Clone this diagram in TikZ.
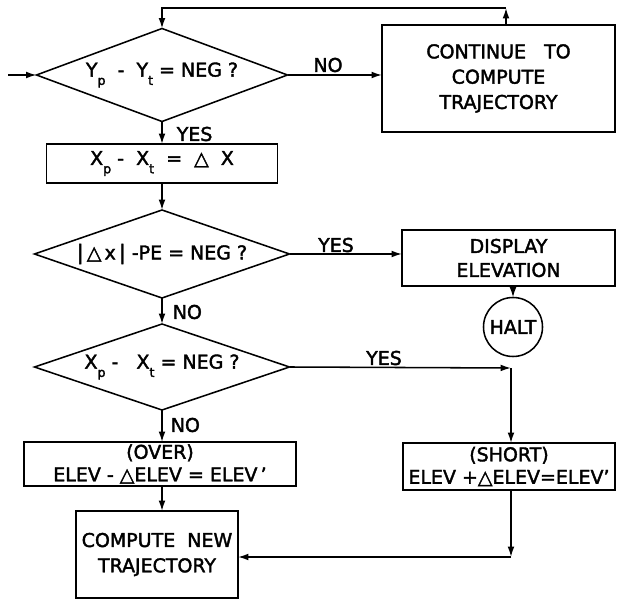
\documentclass[tikz,border=0pt]{standalone}
\usepackage{fontspec}
\setmainfont{DejaVu Sans}[FakeBold=2]
\usetikzlibrary{shapes.geometric,arrows.meta}

\newcommand{\lo}[1]{\raisebox{-0.8ex}{\small #1}}
\def\px{0.025cm}

\begin{document}
\begin{tikzpicture}[x=\px,y=-\px,>={Latex[length=2.6mm,width=1.7mm]},line width=1.1pt,
  font=\fontsize{13.5}{18}\selectfont,
  proc/.style={draw,rectangle,align=center,inner sep=0pt,outer sep=0pt},
  decide/.style={draw,diamond,aspect=2.8,inner sep=0pt,outer sep=0pt},
  haltc/.style={draw,circle,inner sep=0pt,outer sep=0pt,minimum size=59*\px},
  lbl/.style={inner sep=0pt}]

\useasboundingbox (0,0) rectangle (617,609);

% decisions
\node[decide,minimum width=251*\px,minimum height=93*\px] (q1) at (162,75)
  {Y\lo{p}\ \ -\ \ Y\lo{t} = NEG ?};
\node[decide,minimum width=255*\px,minimum height=88*\px] (q2) at (162,254)
  {{\Large|}\,△\,x\,{\Large|}\ -PE = NEG ?};
\node[decide,minimum width=255*\px,minimum height=86*\px] (q3) at (162,367)
  {X\lo{p}\ -\ \ \ X\lo{t} = NEG ?};

% boxes
\node[proc,minimum width=233*\px,minimum height=107*\px] (cont) at (498.5,78.5)
  {CONTINUE\ \ \ TO\\COMPUTE\\TRAJECTORY};
\node[proc,minimum width=231*\px,minimum height=39*\px] (dx) at (162,163.5)
  {X\lo{p}\ -\ \ X\lo{t}\ \ =\ \ △\ \ X};
\node[proc,minimum width=213*\px,minimum height=56*\px,font=\fontsize{13.5}{17}\selectfont] (disp) at (508.5,258)
  {DISPLAY\\ELEVATION};
\node[haltc] (halt) at (513,327) {HALT};
\node[proc,minimum width=272*\px,minimum height=44*\px,font=\fontsize{13.5}{16}\selectfont] (over) at (160,464)
  {(OVER)\\ELEV - △ELEV\ = ELEV\,'};
\node[proc,minimum width=212*\px,minimum height=47*\px,font=\fontsize{13.5}{16}\selectfont] (short) at (509,466.5)
  {(SHORT)\\ELEV +△ELEV=ELEV'};
\node[proc,minimum width=162*\px,minimum height=87*\px] (newtraj) at (157,554.5)
  {COMPUTE\ \ NEW\\TRAJECTORY};

% labels
\node[lbl] (no1) at (328,65) {NO};
\node[lbl,anchor=west] (yes1) at (176,134) {YES};
\node[lbl] (yes2) at (336,245) {YES};
\node[lbl,anchor=west] (no2) at (172,312) {NO};
\node[lbl] (yes3) at (384,358) {YES};
\node[lbl,anchor=west] (no3) at (170,425) {NO};

% corners
\coordinate (start) at (8,75);
\coordinate (up) at (506,8);
\coordinate (c1) at (511,368);
\coordinate (c2) at (511,557);

% flow
\draw[->] (start) -- (q1.west);
\draw[->] (q1.east) -- (q1.east -| cont.west);
\draw[->] (cont.north -| up) -- (up);
\draw[->] (up) -| (q1.north);
\draw[->] (q1.south) -- (dx.north);
\draw[->] (dx.south) -- (q2.north);
\draw[->] (q2.east) -- (q2.east -| disp.west);
\draw[->] (halt.north |- disp.south) -- (halt.north);
\draw[->] (q2.south) -- (q3.north);
\draw[->] (q3.east) -- (c1);
\draw[->] (c1) -- (c1 |- short.north);
\draw[->] (q3.south) -- (q3.south |- over.north);
\draw[->] (q3.south |- over.south) -- (q3.south |- newtraj.north);
\draw[->] (short.south -| c2) -- (c2);
\draw[->] (c2) -- (c2 -| newtraj.east);

\end{tikzpicture}
\end{document}
